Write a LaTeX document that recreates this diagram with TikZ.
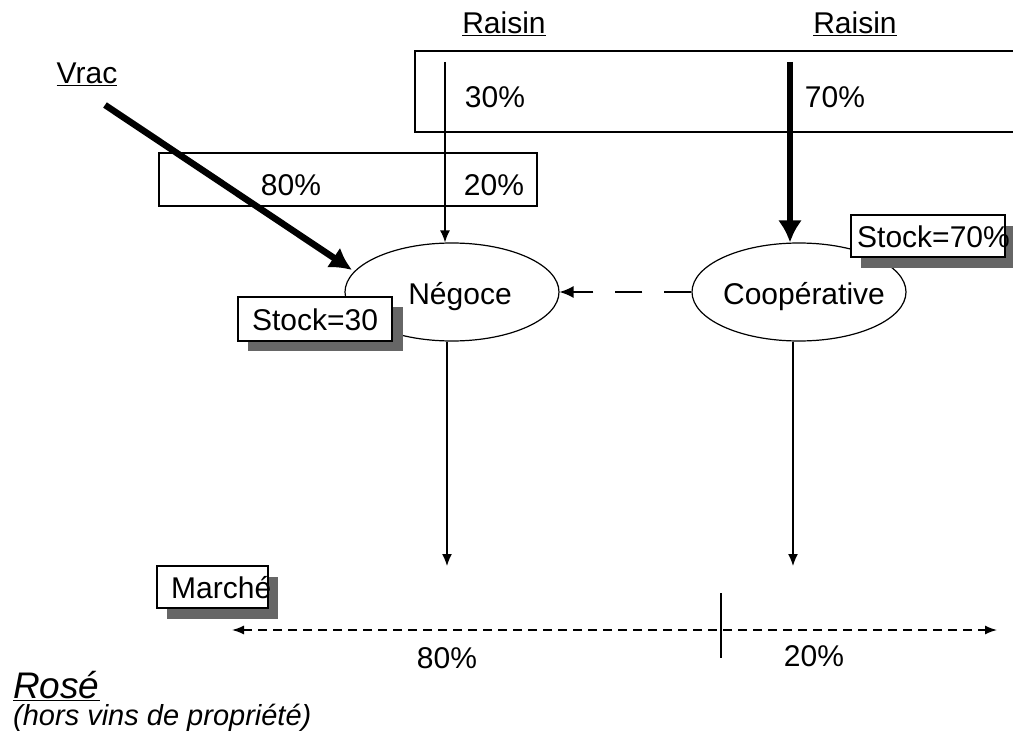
\documentclass[tikz,border=0pt]{standalone}
\usepackage{fontspec}
\setmainfont{Liberation Sans}
\usetikzlibrary{shapes.geometric,arrows.meta}
\begin{document}
\begin{tikzpicture}[x=1pt,y=-1pt,
  lbl/.style={font=\fontsize{30}{34}\selectfont, inner sep=0pt},
  thinarrow/.style={line width=1.4pt, -{Latex[length=12pt,width=10pt]}},
  thickarrow/.style={line width=6.5pt, -{Latex[length=22pt,width=24pt]}},
  actor/.style={ellipse, draw, line width=1.2pt, minimum width=214pt, minimum height=98pt, inner sep=0pt},
  framebox/.style={draw, line width=1.2pt},
  tag/.style={draw, line width=1.2pt, fill=white, inner sep=0pt},
  shade/.style={fill=black!60, draw=none},
  flowdash/.style={line width=1.4pt, dash pattern=on 9pt off 6pt},
]
\useasboundingbox (0,0) rectangle (1013,733);

% share boxes
\draw[framebox] (1015,51) -- (415,51) -- (415,132) -- (1015,132);
\draw[framebox] (159,153) rectangle (537,206);

% sources
\node[lbl] (raisinA) at (504,24) {\underline{Raisin}};
\node[lbl] (raisinB) at (855,24) {\underline{Raisin}};
\node[lbl] (vrac) at (87,74) {\underline{Vrac}};
\coordinate (vracstart) at (105,105);
\coordinate (topA) at (445,62);
\coordinate (topB) at (790,62);

% shares
\node[lbl] (p30) at (495,97) {30\%};
\node[lbl] (p70) at (835,97) {70\%};
\node[lbl] (p80) at (291,185) {80\%};
\node[lbl] (p20) at (494,185) {20\%};

% actors
\node[actor] (neg) at (452,292) {};
\node[lbl] (negtxt) at (460,297) {Négoce};
\node[actor] (coop) at (799,292) {};
\node[lbl] (cooptxt) at (804,297) {Coopérative};

% stock labels with drop shadows
\fill[shade] (248,307) rectangle (403,351);
\node[tag, minimum width=154pt, minimum height=44pt] (stockA) at (315,319) {};
\node[lbl] (stockAtxt) at (315,320) {Stock=30};
\fill[shade] (861,226) rectangle (1013,268);
\node[tag, minimum width=154pt, minimum height=42pt] (stockB) at (928,236) {};
\node[lbl, anchor=west] (stockBtxt) at (857,237) {Stock=70\%};

% flows
\draw[thinarrow] (topA) -- (neg.north -| topA);
\draw[thickarrow] (topB) -- (coop.north -| topB);
\draw[thickarrow] (vracstart) -- (352,270);
\draw[line width=1.4pt, dash pattern=on 27pt off 22pt, -{Latex[length=14pt,width=12pt]}] (coop.west) -- (neg.east);
\coordinate (negdown) at (447,566);
\coordinate (coopdown) at (793,566);
\draw[thinarrow] (neg.south -| negdown) -- (negdown);
\draw[thinarrow] (coop.south -| coopdown) -- (coopdown);

% market
\fill[shade] (167,577) rectangle (278,619);
\node[tag, minimum width=111pt, minimum height=42pt] (market) at (212.5,587) {};
\node[lbl, anchor=west] (markettxt) at (171,588) {Marché};
\coordinate (mleft) at (232,630);
\coordinate (mright) at (997,630);
\coordinate (tickTop) at (721,593);
\coordinate (tickBot) at (721,658);
\draw[flowdash, {Latex[length=12pt,width=9pt]}-{Latex[length=12pt,width=9pt]}] (mleft) -- (mright);
\draw[line width=1.4pt] (tickTop) -- (tickBot);
\node[lbl] (m80) at (447,658) {80\%};
\node[lbl] (m20) at (814,656) {20\%};

% title
\node[font=\fontsize{37}{42}\selectfont\itshape, inner sep=0pt, anchor=base west] (title) at (13,698) {\underline{Rosé}};
\node[font=\fontsize{29}{32}\selectfont\itshape, inner sep=0pt, anchor=base west] (subtitle) at (13,725) {(hors vins de propriété)};
\end{tikzpicture}
\end{document}
